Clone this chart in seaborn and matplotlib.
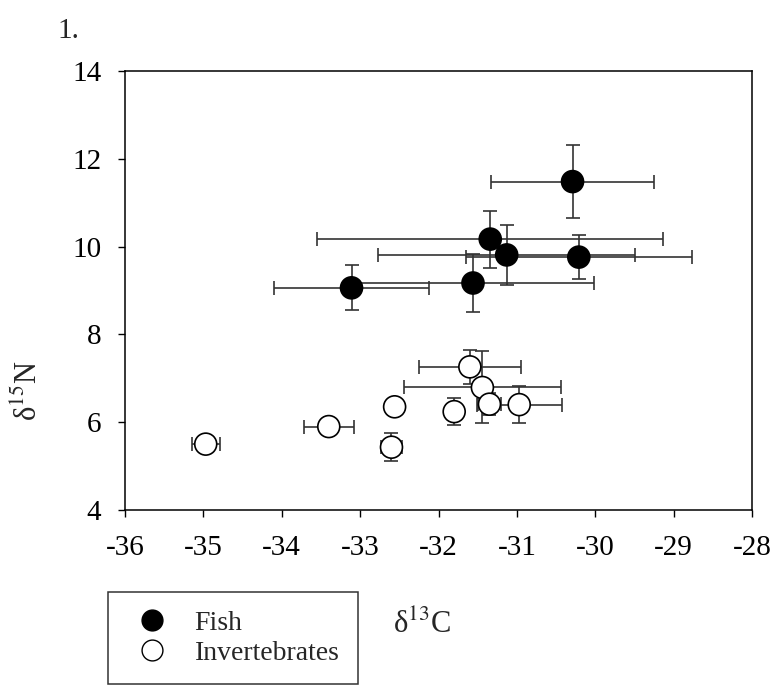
import matplotlib
matplotlib.use("Agg")
import matplotlib.pyplot as plt
from matplotlib.lines import Line2D
import numpy as np
import pandas as pd
import seaborn as sns

# Stable isotope means (d13C, d15N) with error ranges
fish_c = [-30.29, -31.34, -31.13, -30.21, -33.11, -31.56]
fish_n = [11.48, 10.17, 9.81, 9.76, 9.06, 9.17]
fish_c_err = [1.04, 2.21, 1.64, 1.44, 0.99, 1.54]
fish_n_err = [0.83, 0.65, 0.68, 0.50, 0.51, 0.66]

inv_c = [-31.60, -31.44, -31.35, -30.97, -31.80, -32.56, -33.40, -34.97, -32.60]
inv_n = [7.26, 6.79, 6.41, 6.40, 6.24, 6.35, 5.90, 5.50, 5.43]
inv_c_err = [0.65, 1.00, 0.15, 0.54, 0.10, 0.05, 0.32, 0.18, 0.14]
inv_n_err = [0.38, 0.82, 0.25, 0.42, 0.30, 0.05, 0.05, 0.05, 0.32]

groups = ["Fish", "Invertebrates"]
x_ticks = [-36, -35, -34, -33, -32, -31, -30, -29, -28]
y_ticks = [4, 6, 8, 10, 12, 14]

sns.set_theme(style="white")
plt.rcParams["font.family"] = ["Liberation Serif", "DejaVu Serif"]
plt.rcParams["mathtext.fontset"] = "stix"

df = pd.DataFrame({
    "d13C": fish_c + inv_c,
    "d15N": fish_n + inv_n,
    "group": [groups[0]] * len(fish_c) + [groups[1]] * len(inv_c),
})

fig = plt.figure(figsize=(7.74, 6.85), dpi=100)
ax = fig.add_axes([0.1615, 0.2555, 0.8101, 0.6409])

err_kw = dict(fmt="none", ecolor="#333333", elinewidth=1.2, capsize=5,
              capthick=1.2, zorder=1)
ax.errorbar(fish_c, fish_n, xerr=fish_c_err, yerr=fish_n_err, **err_kw)
ax.errorbar(inv_c, inv_n, xerr=inv_c_err, yerr=inv_n_err, **err_kw)

sns.scatterplot(data=df, x="d13C", y="d15N", hue="group", style="group",
                palette={"Fish": "black", "Invertebrates": "white"},
                markers={"Fish": "o", "Invertebrates": "o"},
                s=250, edgecolor="black", linewidth=1.2, legend=False,
                zorder=3, ax=ax)

ax.set_xlim(-36, -28)
ax.set_ylim(4, 14)
ax.set_xticks(x_ticks)
ax.set_xticklabels([str(t) for t in x_ticks])
ax.set_yticks(y_ticks)
ax.set_yticklabels([str(t) for t in y_ticks])
ax.tick_params(axis="both", direction="out", length=5, width=1,
               labelsize=21, colors="black", pad=12, bottom=True, left=True)
ax.tick_params(axis="x", pad=13)
for sp in ax.spines.values():
    sp.set_color("black")
    sp.set_linewidth(1.1)
ax.set_xlabel("")
ax.set_ylabel("")

fig.text(0.545, 0.088, "δ$^{13}$C", fontsize=22, ha="center", va="center")
fig.text(0.037, 0.43, "δ$^{15}$N", fontsize=22, ha="center", va="center",
         rotation=90)
fig.text(0.074, 0.955, "1.", fontsize=21, ha="left", va="center")

handles = [
    Line2D([], [], marker="o", linestyle="none", markersize=15,
           markerfacecolor="black", markeredgecolor="black"),
    Line2D([], [], marker="o", linestyle="none", markersize=15,
           markerfacecolor="white", markeredgecolor="black"),
]
leg = fig.legend(handles, groups, loc="lower left",
                 bbox_to_anchor=(0.1395, 0.0015), fontsize=20,
                 frameon=True, fancybox=False, edgecolor="black",
                 borderpad=0.65, handletextpad=0.6, labelspacing=0.17,
                 handlelength=1.87, borderaxespad=0)
leg.get_frame().set_linewidth(1.1)

fig.savefig("out.png", dpi=100)
